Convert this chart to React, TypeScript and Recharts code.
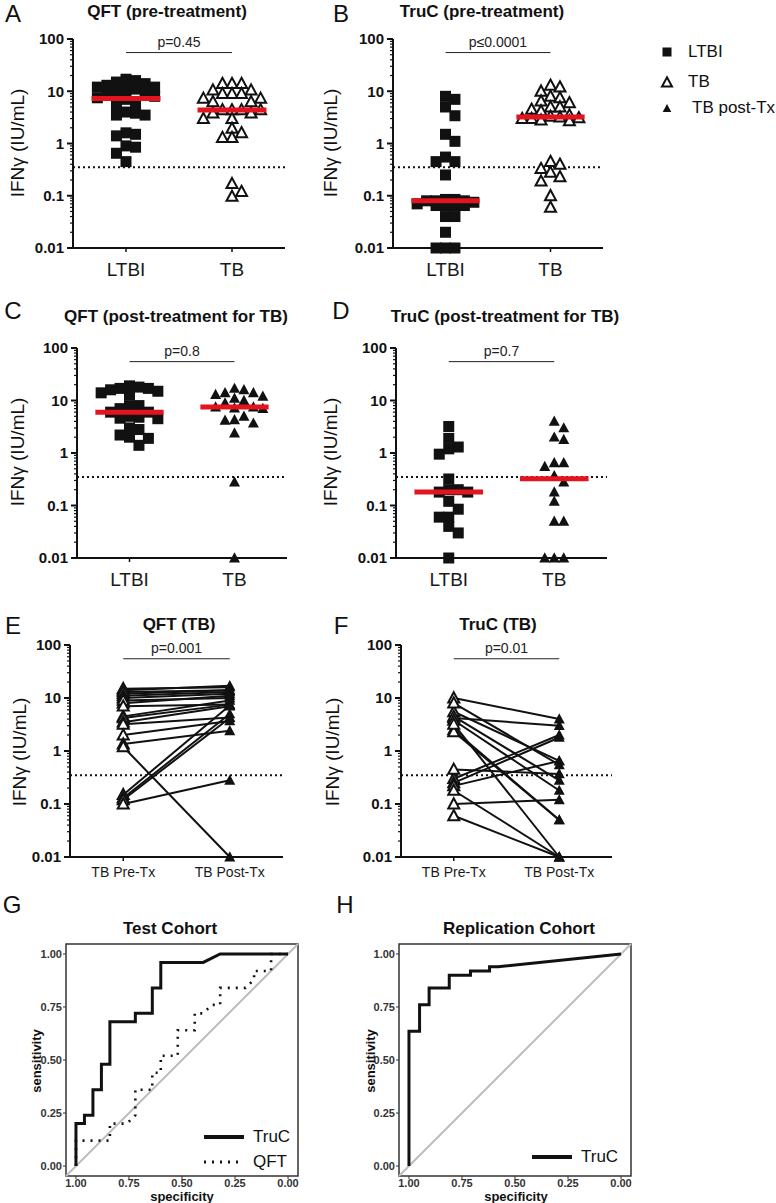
import React from 'react';
import { ScatterChart, Scatter, XAxis, YAxis, ReferenceLine, ReferenceArea } from 'recharts';

// ---------- data ----------
const groupLabels = ['LTBI', 'TB'];
const pairLabels = ['TB Pre-Tx', 'TB Post-Tx'];
const legendLabels = ['LTBI', 'TB', 'TB post-Tx'];
const yMajor = [0.01, 0.1, 1, 10, 100];
const rocTicks = [0, 0.25, 0.5, 0.75, 1];
const cutoff = 0.35;

// A  QFT (pre-treatment)
const qftPreLtbi = [17, 16, 15, 14, 13, 12, 12, 11, 11, 10, 10, 9, 8, 7.5, 7, 6, 5.5, 4, 3.8, 3.5, 3.5, 1.6, 1.5, 1.4, 0.9, 0.85, 0.65, 0.45];
const qftPreTb = [14, 14, 14, 10.5, 10.5, 9, 9, 9, 7.3, 7.3, 6.3, 6.3, 4.4, 4.4, 4.4, 4.4, 3.8, 3.8, 3.0, 3.0, 1.95, 1.6, 1.3, 1.3, 0.17, 0.12, 0.097];
// B  TruC (pre-treatment)
const trucPreLtbi = [8, 7, 5, 3.4, 1.5, 1.1, 0.55, 0.45, 0.45, 0.25, 0.085, 0.085, 0.08, 0.08, 0.08, 0.075, 0.07, 0.065, 0.065, 0.065, 0.065, 0.04, 0.04, 0.02, 0.01, 0.01, 0.01];
const trucPreTb = [13, 12, 10, 8, 7.5, 6.5, 6, 5, 5, 4.5, 4.2, 3.5, 3.3, 3.2, 3.1, 3.0, 3.0, 2.8, 2.7, 0.45, 0.4, 0.33, 0.28, 0.23, 0.19, 0.1, 0.06];
// C  QFT (post-treatment for TB)
const qftPostLtbi = [19, 18, 17, 17, 16, 15, 14, 13, 8, 8, 7, 6, 6, 5, 4.8, 4.6, 4.5, 3, 2.8, 2.2, 2.0, 1.9, 1.4];
const qftPostTb = [17, 16, 14, 14, 13, 12, 11, 10, 9, 7.5, 7.5, 7.2, 7, 5, 4.3, 4.2, 3.7, 2.4, 0.28, 0.01];
// D  TruC (post-treatment for TB)
const trucPostLtbi = [3.2, 1.9, 1.3, 1.2, 0.95, 0.32, 0.2, 0.2, 0.18, 0.18, 0.12, 0.085, 0.06, 0.06, 0.04, 0.03, 0.01];
const trucPostTb = [4, 3, 2, 1.8, 0.65, 0.65, 0.55, 0.37, 0.28, 0.18, 0.12, 0.05, 0.05, 0.01, 0.01, 0.01];
// E / F  pre-treatment values, paired index by index with qftPostTb / trucPostTb
const qftTbPre = [14, 15, 12, 13, 11, 10, 8, 9, 4.5, 7, 4.2, 0.15, 3.5, 0.13, 3.2, 0.12, 2.0, 1.35, 0.1, 1.2];
const trucTbPre = [10, 4.2, 0.3, 0.25, 0.22, 5.5, 8, 0.45, 4.5, 3.8, 0.1, 2.5, 2.3, 3.2, 0.18, 0.06];

const pValues = ['p=0.45', 'p≤0.0001', 'p=0.8', 'p=0.7', 'p=0.001', 'p=0.01'];

// G  Test cohort ROC
const testTrucSpec = [1, 1, 0.96, 0.96, 0.92, 0.92, 0.88, 0.88, 0.84, 0.84, 0.72, 0.72, 0.64, 0.64, 0.6, 0.6, 0.4, 0.32, 0];
const testTrucSens = [0, 0.2, 0.2, 0.24, 0.24, 0.36, 0.36, 0.48, 0.48, 0.68, 0.68, 0.72, 0.72, 0.84, 0.84, 0.96, 0.96, 1, 1];
const testQftSpec = [1, 1, 0.84, 0.84, 0.76, 0.72, 0.72, 0.64, 0.64, 0.6, 0.6, 0.52, 0.52, 0.44, 0.44, 0.4, 0.36, 0.32, 0.32, 0.2, 0.16, 0.16, 0.08, 0.08, 0];
const testQftSens = [0, 0.12, 0.12, 0.2, 0.2, 0.24, 0.36, 0.36, 0.44, 0.44, 0.52, 0.52, 0.64, 0.64, 0.72, 0.72, 0.76, 0.76, 0.84, 0.84, 0.88, 0.92, 0.92, 1, 1];
// H  Replication cohort ROC
const repTrucSpec = [1, 1, 0.95, 0.95, 0.905, 0.905, 0.81, 0.81, 0.71, 0.71, 0.62, 0.62, 0.58, 0];
const repTrucSens = [0, 0.635, 0.635, 0.76, 0.76, 0.84, 0.84, 0.9, 0.9, 0.92, 0.92, 0.94, 0.94, 1];

// ---------- helpers ----------
const INK = '#111';
const RED = '#e3141e';
const SLOT_W = 0.18;
const ROW_GAP = 0.17;
const SLOTS = [0, 1, -1, 2, -2, 3, -3];
const YW = 70;

const logTicks: number[] = [];
yMajor.slice(0, -1).forEach((d) => {
  for (let m = 1; m < 10; m++) logTicks.push(Number((m * d).toPrecision(2)));
});
logTicks.push(yMajor[yMajor.length - 1]);

const median = (v: number[]) => {
  const s = [...v].sort((a, b) => a - b);
  const n = s.length;
  return n % 2 ? s[(n - 1) / 2] : (s[n / 2 - 1] + s[n / 2]) / 2;
};

// beeswarm in a column of 7 slots; symbols overlap when the column is full
const swarm = (values: number[], center: number) => {
  const placed: { x: number; y: number; slot: number; ly: number }[] = [];
  [...values].sort((a, b) => b - a).forEach((v) => {
    const ly = Math.log10(v);
    let best = 0;
    let bestD = -1;
    for (const s of SLOTS) {
      const d = placed.filter((p) => p.slot === s).reduce((m, p) => Math.min(m, Math.abs(p.ly - ly)), Infinity);
      if (d >= ROW_GAP) {
        best = s;
        break;
      }
      if (d > bestD) {
        bestD = d;
        best = s;
      }
    }
    placed.push({ x: center + best * SLOT_W, y: v, slot: best, ly });
  });
  return placed;
};

const tri = (x: number, y: number, r: number) =>
  `M${x},${y - r * 1.05}L${x + r},${y + r * 0.8}L${x - r},${y + r * 0.8}Z`;
const square = (p: any) => <rect x={p.cx - 5.5} y={p.cy - 5.5} width={11} height={11} fill={INK} />;
const openTri = (p: any) => <path d={tri(p.cx, p.cy, 5.5)} fill="#fff" stroke={INK} strokeWidth={2} />;
const fillTri = (p: any) => <path d={tri(p.cx, p.cy, 5.5)} fill={INK} />;
const noMark = () => <g />;

const logTick = (props: any) => {
  const v = props.payload.value;
  const y = props.y;
  const lg = Math.log10(v);
  const major = Math.abs(lg - Math.round(lg)) < 1e-6;
  return (
    <g>
      <line x1={YW} x2={YW - (major ? 6 : 3)} y1={y} y2={y} stroke={INK} strokeWidth={major ? 2 : 1.2} />
      {major && (
        <text x={YW - 9} y={y} dy="0.36em" textAnchor="end" fontSize={15} fontWeight={700} fill={INK}>
          {String(v)}
        </text>
      )}
    </g>
  );
};

const Frame = ({ geo, cats, catFont, catGap, p, children }: any) => {
  const left = geo.axisX - YW;
  const chartTop = geo.top - 39;
  const width = geo.right - left + 8;
  const height = geo.bottom - chartTop + 42;
  return (
    <div style={{ position: 'absolute', left, top: chartTop }}>
      <ScatterChart width={width} height={height} margin={{ top: 39, right: 8, bottom: 0, left: 0 }}>
        <XAxis
          type="number"
          dataKey="x"
          domain={[0, 4]}
          ticks={[1, 3]}
          interval={0}
          tickFormatter={(v: number) => cats[v === 1 ? 0 : 1]}
          height={42}
          axisLine={{ stroke: INK, strokeWidth: 2 }}
          tickLine={{ stroke: INK, strokeWidth: 1.5 }}
          tickSize={4}
          tickMargin={catGap}
          tick={{ fill: '#1a1a1a', fontSize: catFont }}
        />
        <YAxis
          type="number"
          dataKey="y"
          scale="log"
          domain={[0.01, 100]}
          ticks={logTicks}
          interval={0}
          width={YW}
          tickSize={0}
          tickMargin={0}
          tickLine={false}
          axisLine={{ stroke: INK, strokeWidth: 2 }}
          tick={logTick}
        />
        <ReferenceLine y={cutoff} stroke={INK} strokeWidth={2} strokeDasharray="2 3" />
        <ReferenceLine
          segment={[{ x: 1, y: 55 }, { x: 3, y: 55 }]}
          stroke="#222"
          strokeWidth={1}
          label={{ value: p, position: 'top', offset: 6, fontSize: 14, fill: '#222' }}
        />
        {children}
      </ScatterChart>
    </div>
  );
};

// median bar drawn as a two-point scatter line so it sits above the symbols
const medianBar = (values: number[], c: number) => {
  const m = median(values);
  return (
    <Scatter
      data={[{ x: c - 0.65, y: m }, { x: c + 0.65, y: m }]}
      line={{ stroke: RED, strokeWidth: 5 }}
      shape={noMark}
      isAnimationActive={false}
    />
  );
};

const DotPanel = ({ geo, left, right, rightShape, p }: any) => (
  <Frame geo={geo} cats={groupLabels} catFont={19} catGap={11} p={p}>
    <Scatter data={swarm(left, 1)} shape={square} isAnimationActive={false} />
    <Scatter data={swarm(right, 3)} shape={rightShape} isAnimationActive={false} />
    {medianBar(left, 1)}
    {medianBar(right, 3)}
  </Frame>
);

const PairPanel = ({ geo, pre, post, p }: any) => (
  <Frame geo={geo} cats={pairLabels} catFont={14} catGap={6} p={p}>
    {pre.map((v: number, i: number) => (
      <Scatter
        key={i}
        data={[{ x: 1, y: v }, { x: 3, y: post[i] }]}
        line={{ stroke: INK, strokeWidth: 2 }}
        shape={noMark}
        isAnimationActive={false}
      />
    ))}
    <Scatter data={pre.map((v: number) => ({ x: 1, y: v }))} shape={openTri} isAnimationActive={false} />
    <Scatter data={post.map((v: number) => ({ x: 3, y: v }))} shape={fillTri} isAnimationActive={false} />
  </Frame>
);

const LO = -0.047;
const HI = 1.047;
const toPts = (spec: number[], sens: number[]) => spec.map((s, i) => ({ x: s, y: sens[i] }));
const rocTick = { fill: '#333', fontSize: 11, fontWeight: 700 };

const RocPanel = ({ left, yw, width, curves }: any) => (
  <div style={{ position: 'absolute', left, top: 880 }}>
    <ScatterChart width={width} height={323} margin={{ top: 64, right: width - yw - 232, bottom: 0, left: 0 }}>
      <XAxis
        type="number"
        dataKey="x"
        reversed
        domain={[LO, HI]}
        ticks={rocTicks}
        interval={0}
        tickFormatter={(v: number) => v.toFixed(2)}
        height={27}
        axisLine={false}
        tickLine={{ stroke: '#333' }}
        tickSize={3}
        tickMargin={0}
        tick={rocTick}
      />
      <YAxis
        type="number"
        dataKey="y"
        domain={[LO, HI]}
        ticks={rocTicks}
        interval={0}
        tickFormatter={(v: number) => v.toFixed(2)}
        width={yw}
        axisLine={false}
        tickLine={{ stroke: '#333' }}
        tickSize={3}
        tickMargin={1}
        tick={rocTick}
      />
      <ReferenceLine segment={[{ x: HI, y: LO }, { x: LO, y: HI }]} stroke="#bdbdbd" strokeWidth={2} />
      {curves.map((c: any, i: number) => (
        <Scatter
          key={i}
          data={c.pts}
          line={{ stroke: INK, strokeWidth: c.dash ? 2.6 : 3, strokeDasharray: c.dash }}
          shape={noMark}
          isAnimationActive={false}
        />
      ))}
      <ReferenceArea x1={LO} x2={HI} y1={LO} y2={HI} fill="none" stroke="#333" strokeWidth={1.5} ifOverflow="visible" />
    </ScatterChart>
  </div>
);

// ---------- overlay text ----------
const T = ({ x, y, size, bold, rot, children, anchor, lh }: any) => (
  <div
    style={{
      position: 'absolute',
      left: x,
      top: y,
      fontSize: size,
      fontWeight: bold ? 700 : 400,
      whiteSpace: 'nowrap',
      lineHeight: lh ?? 1.15,
      color: '#111',
      transform: `translate(${anchor === 'start' ? '0' : '-50%'}, -50%)${rot ? ' rotate(-90deg)' : ''}`,
    }}
  >
    {children}
  </div>
);

const Icon = ({ kind }: any) => (
  <svg width={14} height={14} style={{ display: 'block' }}>
    {kind === 0 && <rect x={2.5} y={2.5} width={9} height={9} fill={INK} />}
    {kind === 1 && <path d={tri(7, 7.5, 5)} fill="#fff" stroke={INK} strokeWidth={2} />}
    {kind === 2 && <path d={tri(7, 7.5, 4.3)} fill={INK} />}
  </svg>
);

const LegendLine = ({ x, y, dash }: any) => (
  <svg width={42} height={8} style={{ position: 'absolute', left: x, top: y - 4 }}>
    <line x1={1} x2={41} y1={4} y2={4} stroke={INK} strokeWidth={dash ? 3 : 4} strokeDasharray={dash} />
  </svg>
);

const ylab = 'IFNγ (IU/mL)';
const dotted = '2 6';

export default function App() {
  return (
    <div
      style={{
        position: 'absolute',
        left: 0,
        top: 0,
        width: 776,
        height: 1203,
        background: '#fff',
        fontFamily: 'Arial, "Liberation Sans", Helvetica, sans-serif',
        overflow: 'hidden',
      }}
    >
      <DotPanel geo={{ axisX: 73, top: 39, bottom: 248, right: 285 }} left={qftPreLtbi} right={qftPreTb} rightShape={openTri} p={pValues[0]} />
      <DotPanel geo={{ axisX: 393, top: 39, bottom: 248, right: 603 }} left={trucPreLtbi} right={trucPreTb} rightShape={openTri} p={pValues[1]} />
      <DotPanel geo={{ axisX: 77, top: 348, bottom: 558, right: 287 }} left={qftPostLtbi} right={qftPostTb} rightShape={fillTri} p={pValues[2]} />
      <DotPanel geo={{ axisX: 396, top: 348, bottom: 558, right: 607 }} left={trucPostLtbi} right={trucPostTb} rightShape={fillTri} p={pValues[3]} />
      <PairPanel geo={{ axisX: 70, top: 645, bottom: 857, right: 283 }} pre={qftTbPre} post={qftPostTb} p={pValues[4]} />
      <PairPanel geo={{ axisX: 401, top: 645, bottom: 857, right: 612 }} pre={trucTbPre} post={trucPostTb} p={pValues[5]} />
      <RocPanel
        left={0}
        yw={66}
        width={310}
        curves={[{ pts: toPts(testTrucSpec, testTrucSens) }, { pts: toPts(testQftSpec, testQftSens), dash: dotted }]}
      />
      <RocPanel left={330} yw={69} width={310} curves={[{ pts: toPts(repTrucSpec, repTrucSens) }]} />

      {/* panel letters */}
      <T x={13} y={14} size={24}>A</T>
      <T x={341} y={14} size={24}>B</T>
      <T x={13} y={311} size={24}>C</T>
      <T x={341} y={311} size={24}>D</T>
      <T x={13} y={626} size={24}>E</T>
      <T x={341} y={626} size={24}>F</T>
      <T x={12} y={905} size={24}>G</T>
      <T x={345} y={905} size={24}>H</T>

      {/* titles */}
      <T x={167} y={12} size={17} bold>QFT (pre-treatment)</T>
      <T x={482} y={12} size={17} bold>TruC (pre-treatment)</T>
      <T x={176} y={317} size={17} bold>QFT (post-treatment for TB)</T>
      <T x={505} y={317} size={17} bold>TruC (post-treatment for TB)</T>
      <T x={179} y={625} size={17} bold>QFT (TB)</T>
      <T x={498} y={625} size={17} bold>TruC (TB)</T>
      <T x={170} y={929} size={17} bold>Test Cohort</T>
      <T x={519} y={929} size={17} bold>Replication Cohort</T>

      {/* axis titles */}
      <T x={18} y={143} size={19} rot>{ylab}</T>
      <T x={331} y={143} size={19} rot>{ylab}</T>
      <T x={18} y={452} size={19} rot>{ylab}</T>
      <T x={331} y={452} size={19} rot>{ylab}</T>
      <T x={20} y={752} size={19} rot>{ylab}</T>
      <T x={333} y={752} size={19} rot>{ylab}</T>
      <T x={37} y={1061} size={13} bold rot>sensitivity</T>
      <T x={371} y={1061} size={13} bold rot>sensitivity</T>
      <T x={182} y={1196} size={13} bold lh={1}>specificity</T>
      <T x={516} y={1196} size={13} bold lh={1}>specificity</T>

      {/* group legend */}
      {legendLabels.map((l, i) => (
        <div key={l} style={{ position: 'absolute', left: 660, top: [52, 82, 108][i] - 7, display: 'flex', alignItems: 'center' }}>
          <Icon kind={i} />
          <span style={{ marginLeft: i === 2 ? 18 : 14, fontSize: 17, lineHeight: '14px', color: '#111' }}>{l}</span>
        </div>
      ))}

      {/* ROC legends */}
      <LegendLine x={203} y={1137} />
      <T x={253} y={1137} size={17} anchor="start">TruC</T>
      <LegendLine x={203} y={1162} dash={dotted} />
      <T x={253} y={1162} size={17} anchor="start">QFT</T>
      <LegendLine x={531} y={1157} />
      <T x={581} y={1157} size={17} anchor="start">TruC</T>
    </div>
  );
}
